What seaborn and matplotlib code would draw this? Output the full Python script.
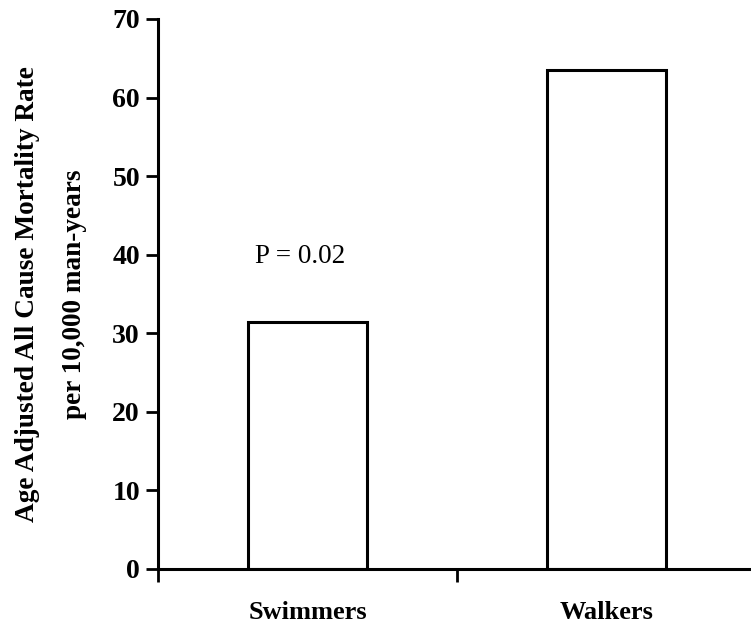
import matplotlib
matplotlib.use("Agg")
import matplotlib.pyplot as plt
import seaborn as sns
import pandas as pd

groups = ["Swimmers", "Walkers"]
rates = [31.4, 63.5]
y_ticks = [0, 10, 20, 30, 40, 50, 60, 70]
annotation = "P = 0.02"

sns.set_theme(style="ticks")
plt.rcParams["font.family"] = ["Liberation Serif", "DejaVu Serif"]
plt.rcParams["text.color"] = "black"
plt.rcParams["axes.labelcolor"] = "black"
plt.rcParams["xtick.color"] = "black"
plt.rcParams["ytick.color"] = "black"

df = pd.DataFrame({"group": groups, "rate": rates})

fig = plt.figure(figsize=(7.51, 6.28), dpi=100)
ax = fig.add_axes([158/751, 59/628, 598/751, 550/628])

sns.barplot(data=df, x="group", y="rate", ax=ax, color="white",
            edgecolor="black", linewidth=2.2, width=0.40, saturation=1)

ax.set_xlim(-0.5, 1.5)
ax.set_ylim(0, 70)
ax.set_yticks(y_ticks)
ax.set_yticklabels([str(t) for t in y_ticks], fontsize=20, fontweight="bold")
ax.set_xticks([0, 1])
ax.set_xticklabels(groups, fontsize=19, fontweight="bold")
ax.tick_params(axis="x", which="major", length=0, pad=23)
ax.set_xticks([-0.5, 0.5, 1.5], minor=True)
ax.tick_params(axis="x", which="minor", length=9, width=2, color="black")
ax.tick_params(axis="y", which="major", length=9, width=2, color="black", pad=4)

for s in ["top", "right"]:
    ax.spines[s].set_visible(False)
for s in ["left", "bottom"]:
    ax.spines[s].set_linewidth(2.2)
    ax.spines[s].set_color("black")

ax.set_xlabel("")
ax.set_ylabel("Age Adjusted All Cause Mortality Rate\nper 10,000 man-years",
              fontsize=19.6, fontweight="bold", labelpad=18, linespacing=2.15)

ax.text(-0.025, 39.8, annotation, ha="center", va="center", fontsize=19.5)

fig.savefig("out.png", dpi=100)
